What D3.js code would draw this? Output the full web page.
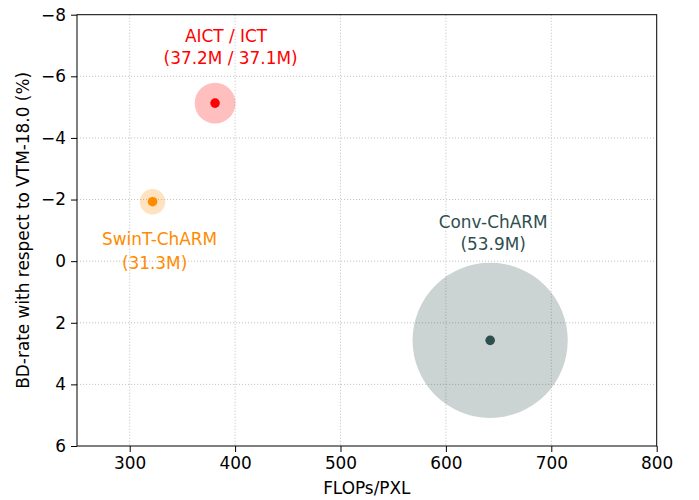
<!DOCTYPE html>
<html>
<head>
<meta charset="utf-8">
<script src="https://cdn.jsdelivr.net/npm/d3@7"></script>
<style>
  html, body { margin: 0; padding: 0; background: #fff; }
  text { font-family: "DejaVu Sans", sans-serif; }
</style>
</head>
<body>
<svg id="chart" width="699" height="500"></svg>
<script>
// Models compared: complexity vs. coding gain, bubble area grows with parameter count
const models = ["AICT / ICT", "SwinT-ChARM", "Conv-ChARM"];
const paramLabels = ["(37.2M / 37.1M)", "(31.3M)", "(53.9M)"];
const params = [37.2, 31.3, 53.9];          // millions of parameters
const flops = [381, 321.7, 642];            // FLOPs per pixel
const bdRate = [-5.13, -1.93, 2.57];        // BD-rate vs VTM-18.0 (%)
const colors = ["#ff0000", "#ff8c00", "#2f4f4f"];

const xTicks = [300, 400, 500, 600, 700, 800];
const yTicks = [-8, -6, -4, -2, 0, 2, 4, 6];

const W = 699, H = 500;
const m = { left: 77, right: 42.3, top: 14.7, bottom: 54 };
const FS = 16.9;

const svg = d3.select("#chart");

const x = d3.scaleLinear().domain([250, 800]).range([m.left, W - m.right]);
const y = d3.scaleLinear().domain([-8, 6]).range([m.top, H - m.bottom]);
// bubble radius from parameter count (exponential growth)
const r = p => 1.04 * Math.exp(0.08 * p);

// grid
const grid = svg.append("g");
grid.selectAll("line.gx").data(xTicks.filter(t => t < 800)).join("line")
  .attr("x1", d => x(d)).attr("x2", d => x(d))
  .attr("y1", m.top).attr("y2", H - m.bottom)
  .attr("stroke", "#c4c4c4").attr("stroke-width", 1).attr("stroke-dasharray", "1.1,1.9");
grid.selectAll("line.gy").data(yTicks.filter(t => t > -8 && t < 6)).join("line")
  .attr("y1", d => y(d)).attr("y2", d => y(d))
  .attr("x1", m.left).attr("x2", W - m.right)
  .attr("stroke", "#c4c4c4").attr("stroke-width", 1).attr("stroke-dasharray", "1.1,1.9");

const idx = d3.range(models.length);

// bubbles (halo) and center dots
svg.append("g").selectAll("circle").data(idx).join("circle")
  .attr("cx", i => x(flops[i])).attr("cy", i => y(bdRate[i]))
  .attr("r", i => r(params[i]))
  .attr("fill", i => colors[i]).attr("fill-opacity", 0.25);
svg.append("g").selectAll("circle").data(idx).join("circle")
  .attr("cx", i => x(flops[i])).attr("cy", i => y(bdRate[i]))
  .attr("r", 4.8)
  .attr("fill", i => colors[i]);

// annotations: [dx line1, dy line1, dx line2, dy line2] relative to the dot
const labelOffsets = [
  [11, -61, 15.5, -39],
  [7, 43.8, 2, 67.5],
  [3, -112.5, 3, -90.5]
];
const ann = svg.append("g");
idx.forEach(i => {
  const cx = x(flops[i]), cy = y(bdRate[i]);
  const o = labelOffsets[i];
  ann.append("text").attr("x", cx + o[0]).attr("y", cy + o[1])
    .attr("text-anchor", "middle").attr("font-size", FS).attr("fill", colors[i])
    .text(models[i]);
  ann.append("text").attr("x", cx + o[2]).attr("y", cy + o[3])
    .attr("text-anchor", "middle").attr("font-size", FS).attr("fill", colors[i])
    .text(paramLabels[i]);
});

// axes
const fmt = d => d < 0 ? "\u2212" + Math.abs(d) : String(d);
const xAxis = svg.append("g").attr("transform", `translate(0,${H - m.bottom})`)
  .call(d3.axisBottom(x).tickValues(xTicks).tickFormat(fmt).tickSize(6).tickPadding(5));
const yAxis = svg.append("g").attr("transform", `translate(${m.left},0)`)
  .call(d3.axisLeft(y).tickValues(yTicks).tickFormat(fmt).tickSize(6).tickPadding(5));
[xAxis, yAxis].forEach(a => {
  a.select(".domain").remove();
  a.selectAll(".tick line").attr("stroke", "#000").attr("stroke-width", 1);
  a.selectAll(".tick text").attr("font-size", FS).attr("fill", "#000")
    .attr("font-family", "DejaVu Sans, sans-serif");
});

// frame
svg.append("rect")
  .attr("x", m.left).attr("y", m.top)
  .attr("width", W - m.right - m.left).attr("height", H - m.bottom - m.top)
  .attr("fill", "none").attr("stroke", "#000").attr("stroke-width", 1);

// axis titles
svg.append("text").attr("x", (m.left + W - m.right) / 2).attr("y", 494)
  .attr("text-anchor", "middle").attr("font-size", FS).attr("fill", "#000")
  .text("FLOPs/PXL");
svg.append("text")
  .attr("transform", `translate(29,${(m.top + H - m.bottom) / 2}) rotate(-90)`)
  .attr("text-anchor", "middle").attr("font-size", FS).attr("fill", "#000")
  .text("BD-rate with respect to VTM-18.0 (%)");
</script>
</body>
</html>
